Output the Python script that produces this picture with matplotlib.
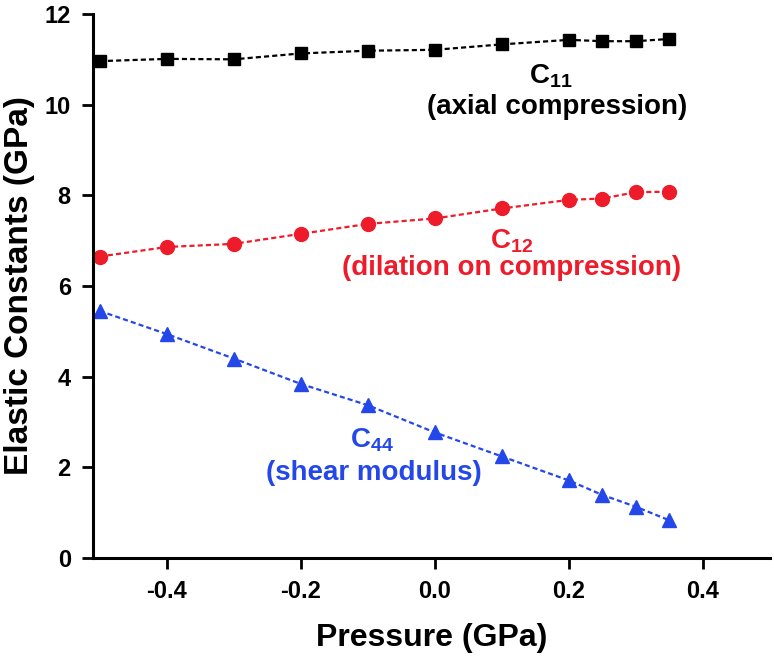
import matplotlib
matplotlib.use("Agg")
import matplotlib.pyplot as plt

pressure = [-0.5, -0.4, -0.3, -0.2, -0.1, 0.0, 0.1, 0.2, 0.25, 0.3, 0.35]
c11 = [10.96, 11.01, 11.00, 11.13, 11.19, 11.21, 11.33, 11.43, 11.40, 11.40, 11.45]
c12 = [6.65, 6.86, 6.93, 7.15, 7.37, 7.49, 7.71, 7.90, 7.93, 8.07, 8.08]
c44 = [5.45, 4.94, 4.40, 3.84, 3.37, 2.77, 2.24, 1.71, 1.39, 1.13, 0.83]

x_ticks = [-0.4, -0.2, 0.0, 0.2, 0.4]
x_ticklabels = ["-0.4", "-0.2", "0.0", "0.2", "0.4"]
y_ticks = [0, 2, 4, 6, 8, 10, 12]

BLACK = "#000000"
RED = "#ee1c2a"
BLUE = "#2447ea"

plt.rcParams['font.family'] = ['Liberation Sans', 'DejaVu Sans']
plt.rcParams['font.weight'] = 'bold'
plt.rcParams['mathtext.fontset'] = 'custom'
plt.rcParams['mathtext.rm'] = 'Liberation Sans:bold'
plt.rcParams['mathtext.bf'] = 'Liberation Sans:bold'
plt.rcParams['mathtext.default'] = 'bf'

fig = plt.figure(figsize=(7.74, 6.59), dpi=100)
ax = fig.add_axes([93/774, 1 - 558/659, (770-93)/774, (558-14)/659])

dash = (2.3, 1.4)
ax.plot(pressure, c11, color=BLACK, ls=(0, dash), lw=1.6, marker='s', ms=9, mec=BLACK, mfc=BLACK)
ax.plot(pressure, c12, color=RED, ls=(0, dash), lw=1.6, marker='o', ms=10, mec=RED, mfc=RED)
ax.plot(pressure, c44, color=BLUE, ls=(0, dash), lw=1.6, marker='^', ms=10.5, mec=BLUE, mfc=BLUE)

ax.set_xlim(-0.51, 0.5)
ax.set_ylim(0, 12)
ax.set_xticks(x_ticks)
ax.set_xticklabels(x_ticklabels)
ax.set_yticks(y_ticks)

for s in ['top', 'right']:
    ax.spines[s].set_visible(False)
for s in ['left', 'bottom']:
    ax.spines[s].set_linewidth(2.2)
ax.tick_params(axis='both', direction='out', length=8, width=2.0, labelsize=17, pad=8)
for lab in ax.get_xticklabels() + ax.get_yticklabels():
    lab.set_fontweight('bold')

ax.set_xlabel("Pressure (GPa)", fontsize=23, fontweight='bold', labelpad=14)
ax.set_ylabel("Elastic Constants (GPa)", fontsize=24, fontweight='bold', labelpad=7)

tk = dict(ha='center', va='center', fontweight='bold', fontsize=20)
ax.text(0.173, 10.63, r"C$_{11}$", color=BLACK, **tk)
ax.text(0.182, 9.95, "(axial compression)", color=BLACK, **tk)
ax.text(0.115, 6.99, r"C$_{12}$", color=RED, **tk)
ax.text(0.115, 6.40, "(dilation on compression)", color=RED, **tk)
ax.text(-0.094, 2.60, r"C$_{44}$", color=BLUE, **tk)
ax.text(-0.091, 1.87, "(shear modulus)", color=BLUE, **tk)

fig.savefig("out.png", dpi=100)
